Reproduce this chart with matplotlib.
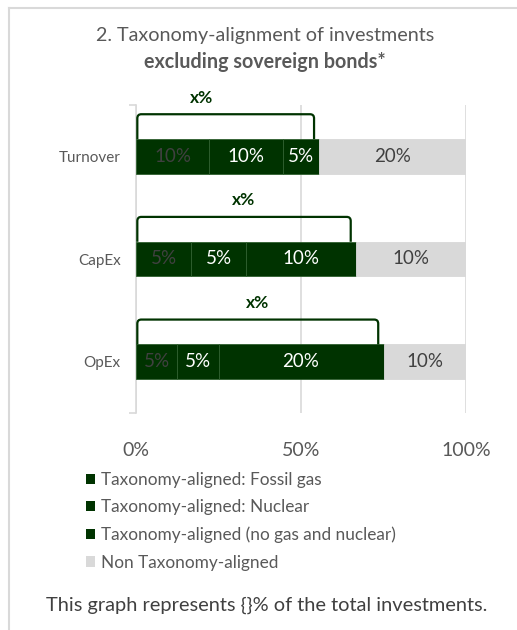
import numpy as np
import matplotlib
matplotlib.use("Agg")
import matplotlib.pyplot as plt
from matplotlib.patches import Patch, PathPatch
from matplotlib.path import Path
from matplotlib.lines import Line2D

plt.rcParams['font.family'] = ['Lato', 'DejaVu Sans']

# data (raw values shown on the bars, drawn as 100% stacked)
categories = ['Turnover', 'CapEx', 'OpEx']
fossil_gas = [10, 5, 5]
nuclear = [10, 5, 5]
aligned_other = [5, 10, 20]
non_aligned = [20, 10, 10]
series_names = ['Taxonomy-aligned: Fossil gas', 'Taxonomy-aligned: Nuclear',
                'Taxonomy-aligned (no gas and nuclear)', 'Non Taxonomy-aligned']
bracket_labels = ['x%', 'x%', 'x%']
tick_vals = [0, 50, 100]
tick_labels = ['0%', '50%', '100%']

dark = '#003300'
grey = '#D9D9D9'
txt = '#595959'

fig = plt.figure(figsize=(5.17, 6.30), dpi=100)
W, H = 517, 630
ax = fig.add_axes([136 / W, 1 - 413 / H, 330 / W, 308 / H])

raw = np.array([fossil_gas, nuclear, aligned_other, non_aligned], dtype=float)
pct = raw / raw.sum(axis=0) * 100
colors = [dark, dark, dark, grey]
edges = ['#2f5f2f', '#2f5f2f', '#2f5f2f', grey]
lab_col = ['#404040', 'white', 'white', '#404040']
y = np.arange(len(categories))
h = 0.335

left = np.zeros(len(categories))
for k in range(4):
    bars = ax.barh(y, pct[k], left=left, height=h, color=colors[k],
                   edgecolor=edges[k], linewidth=0.6, zorder=3)
    for b, v in zip(bars, raw[k]):
        ax.text(b.get_x() + b.get_width() / 2, b.get_y() + h / 2, f'{v:.0f}%',
                ha='center', va='center', color=lab_col[k], fontsize=13.5, zorder=4)
    left = left + pct[k]

# brackets over the aligned part
aligned_end = pct[:3].sum(axis=0)
rx, ry = 1.2, 0.04
for i in range(len(categories)):
    x0 = 0.4
    x1 = aligned_end[i] - 1.6
    yb = i - h / 2
    yt = i - 0.41
    verts = [(x0, yb), (x0, yt + ry), (x0, yt), (x0 + rx, yt), (x1 - rx, yt),
             (x1, yt), (x1, yt + ry), (x1, yb)]
    codes = [Path.MOVETO, Path.LINETO, Path.CURVE3, Path.CURVE3, Path.LINETO,
             Path.CURVE3, Path.CURVE3, Path.LINETO]
    ax.add_patch(PathPatch(Path(verts, codes), fill=False, edgecolor=dark,
                           linewidth=1.6, zorder=5, clip_on=False))
    lx = (x0 + x1) / 2 if i > 0 else 19.8
    ax.text(lx, i - 0.57, bracket_labels[i], ha='center', va='center',
            color=dark, fontsize=12.5, fontweight='bold', clip_on=False)

ax.set_xlim(0, 100)
ax.set_ylim(2.5, -0.5)
ax.set_xticks(tick_vals)
ax.set_xticklabels(tick_labels, fontsize=14, color=txt)
ax.tick_params(axis='x', length=0, pad=21)
ax.set_yticks(y)
ax.set_yticklabels(categories, fontsize=11, color=txt)
ax.set_yticks([-0.5, 2.5], minor=True)
ax.tick_params(axis='y', which='major', length=0, pad=11)
ax.tick_params(axis='y', which='minor', length=5, color=grey, width=1.2)
ax.grid(axis='x', color=grey, linewidth=1.2, zorder=0)
for s in ['top', 'right', 'bottom']:
    ax.spines[s].set_visible(False)
ax.spines['left'].set_color(grey)
ax.spines['left'].set_linewidth(1.2)

# titles
fig.text(265 / W, 1 - 36 / H, '2. Taxonomy-alignment of investments',
         ha='center', va='center', fontsize=14.2, color=txt)
fig.text(265 / W, 1 - 62 / H, 'excluding sovereign bonds*',
         ha='center', va='center', fontsize=14.2, color=txt, fontweight='bold')

# legend
handles = [Patch(facecolor=c) for c in colors]
fig.legend(handles, series_names, loc='upper left',
           bbox_to_anchor=(86 / W, 1 - 472 / H), frameon=False, fontsize=12.4,
           handlelength=0.55, handleheight=0.55, handletextpad=0.3,
           labelspacing=0.66, borderpad=0, borderaxespad=0, labelcolor=txt)

fig.text(267 / W, 1 - 605 / H, 'This graph represents {}% of the total investments.',
         ha='center', va='center', fontsize=14.4, color='#404040')

# frame of the chart area
fig.add_artist(Line2D([9 / W, 1], [1 - 8 / H, 1 - 8 / H], color=grey, linewidth=1.5))
fig.add_artist(Line2D([9 / W, 9 / W], [0, 1 - 8 / H], color=grey, linewidth=1.5))

fig.savefig('out.png', dpi=100)
